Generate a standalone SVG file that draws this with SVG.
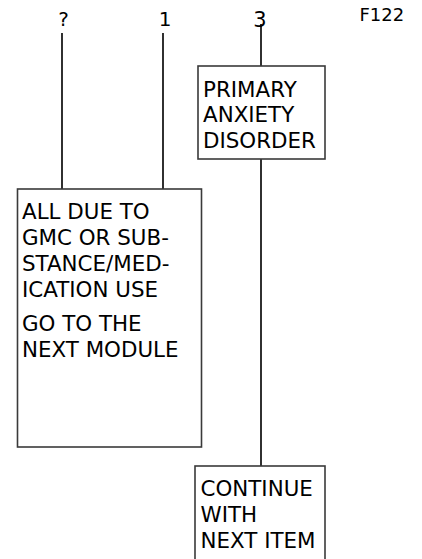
<svg xmlns="http://www.w3.org/2000/svg" width="422" height="559" viewBox="0 0 422 559">
  <style>
    .box { fill: #ffffff; stroke: #3a3a3a; stroke-width: 1.6; }
    .wire { fill: none; stroke: #1a1a1a; stroke-width: 1.8; }
    .lbl { font-family: "DejaVu Sans", Verdana, sans-serif; font-size: 20px; fill: #000; }
    .txt { font-family: "DejaVu Sans", Verdana, sans-serif; font-size: 21.4px; fill: #000; }
  </style>
  <rect width="422" height="559" fill="#ffffff"/>

  <!-- connectors -->
  <g id="connectors">
    <line class="wire" x1="62" y1="33" x2="62" y2="189"/>
    <line class="wire" x1="163" y1="33" x2="163" y2="189"/>
    <line class="wire" x1="261" y1="24" x2="261" y2="66"/>
    <line class="wire" x1="261" y1="159" x2="261" y2="466"/>
  </g>

  <!-- answer labels -->
  <g id="labels">
    <text class="lbl" x="63.5" y="26" text-anchor="middle">?</text>
    <text class="lbl" x="165" y="26" text-anchor="middle">1</text>
    <text class="lbl" x="260" y="26.7" text-anchor="middle" style="font-size:21px">3</text>
    <text class="lbl" x="359.5" y="21" style="font-size:18px">F122</text>
  </g>

  <g id="node-primary">
    <rect class="box" x="198" y="66" width="127" height="93"/>
    <text class="txt" x="203" y="96.7">PRIMARY</text>
    <text class="txt" x="203" y="122.4">ANXIETY</text>
    <text class="txt" x="203" y="148.3">DISORDER</text>
  </g>

  <g id="node-next-module">
    <rect class="box" x="17.5" y="189" width="184" height="258"/>
    <text class="txt" x="22" y="219">ALL DUE TO</text>
    <text class="txt" x="22" y="245">GMC OR SUB-</text>
    <text class="txt" x="22" y="270.8">STANCE/MED-</text>
    <text class="txt" x="22" y="296.7">ICATION USE</text>
    <text class="txt" x="22" y="330.7">GO TO THE</text>
    <text class="txt" x="22" y="356.7">NEXT MODULE</text>
  </g>

  <g id="node-continue">
    <rect class="box" x="195" y="466" width="130" height="110"/>
    <text class="txt" x="200.5" y="496">CONTINUE</text>
    <text class="txt" x="200.5" y="521.7">WITH</text>
    <text class="txt" x="200.5" y="547.7">NEXT ITEM</text>
  </g>
</svg>
